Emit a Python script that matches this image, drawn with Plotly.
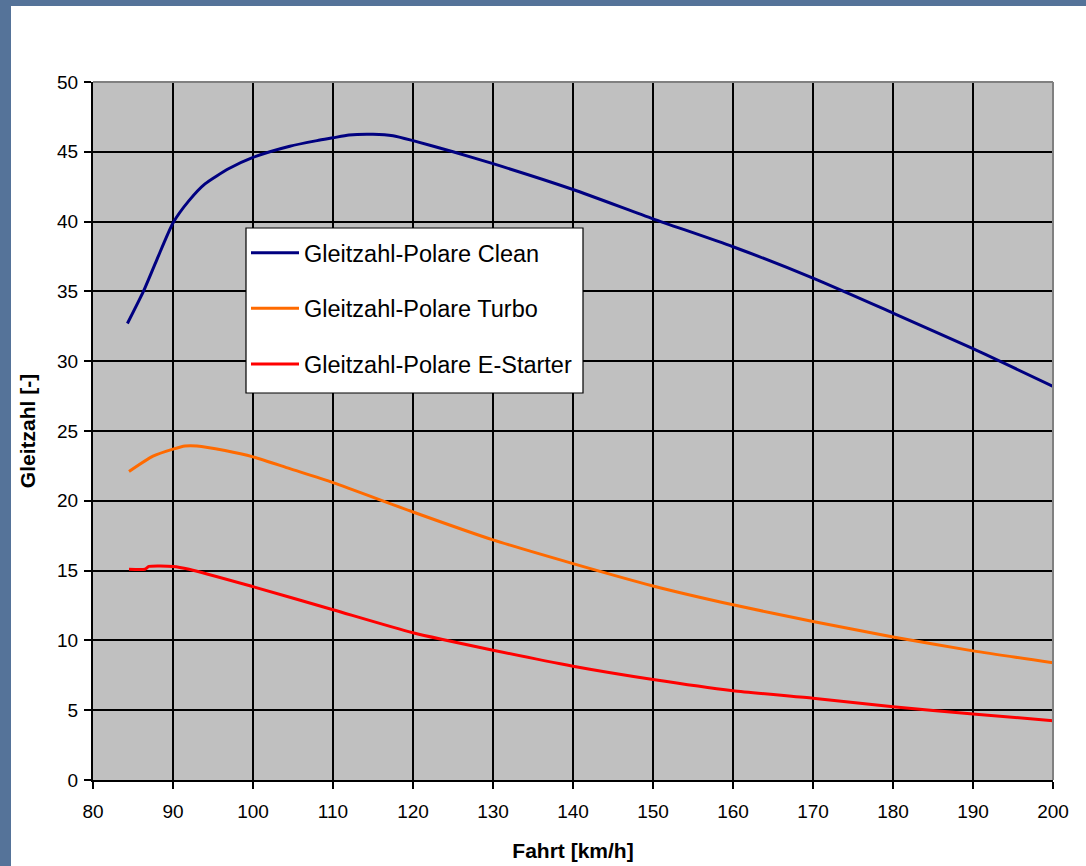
import plotly.graph_objects as go

# Data
clean_x = [84.3, 86.3, 88, 90, 92, 94, 97, 100, 104.6, 108, 110, 112, 115, 117.5, 120, 125, 130, 140, 150, 160, 170, 180, 190, 200]
clean_y = [32.7, 35.0, 37.3, 39.9, 41.5, 42.7, 43.8, 44.6, 45.4, 45.8, 46.0, 46.2, 46.25, 46.15, 45.8, 45.0, 44.15, 42.3, 40.2, 38.2, 35.95, 33.45, 30.9, 28.2]

turbo_x = [84.5, 87.5, 90, 91.5, 93, 96.5, 100, 104.6, 110, 120, 130, 140, 150, 160, 170, 180, 190, 200]
turbo_y = [22.1, 23.2, 23.7, 23.93, 23.93, 23.6, 23.15, 22.3, 21.3, 19.2, 17.2, 15.5, 13.9, 12.55, 11.35, 10.25, 9.25, 8.4]

estart_x = [84.5, 86.5, 87, 90, 92, 100, 110, 120, 130, 140, 150, 160, 170, 180, 190, 200]
estart_y = [15.1, 15.1, 15.3, 15.3, 15.1, 13.85, 12.2, 10.55, 9.3, 8.15, 7.2, 6.4, 5.85, 5.25, 4.73, 4.25]

names = ["Gleitzahl-Polare Clean", "Gleitzahl-Polare Turbo", "Gleitzahl-Polare E-Starter"]
colors = ["#000080", "#FF6A00", "#FF0000"]

x_ticks = list(range(80, 201, 10))
y_ticks = list(range(0, 51, 5))

FONT = "Liberation Sans, Arial, sans-serif"

fig = go.Figure()
for i, (xs, ys) in enumerate([(clean_x, clean_y), (turbo_x, turbo_y), (estart_x, estart_y)]):
    fig.add_trace(go.Scatter(
        x=xs, y=ys, mode="lines", name=names[i],
        line=dict(color=colors[i], width=3, shape="spline", smoothing=0.6),
        legendgroup=f"g{i}",
    ))

L, R, T, B = 93, 33, 82, 86
W, H = 1086, 866
pw, ph = W - L - R, H - T - B

def px(xp):
    return (xp - L) / pw

def py(yp):
    return (H - B - yp) / ph

shapes = [
    # slide background strips (left and top)
    dict(type="rect", xref="paper", yref="paper", x0=px(0), x1=px(11), y0=py(H), y1=py(0),
         fillcolor="#557399", line_width=0, layer="below"),
    dict(type="rect", xref="paper", yref="paper", x0=px(0), x1=px(W), y0=py(6), y1=py(0),
         fillcolor="#557399", line_width=0, layer="below"),
    # gray top and right border of plot area
    dict(type="line", xref="paper", yref="paper", x0=0, x1=1, y0=1, y1=1,
         line=dict(color="#808080", width=2), layer="above"),
    dict(type="line", xref="paper", yref="paper", x0=1, x1=1, y0=0, y1=1,
         line=dict(color="#808080", width=2), layer="above"),
    # legend box
    dict(type="rect", xref="paper", yref="paper", x0=px(246), x1=px(583), y0=py(393), y1=py(228),
         fillcolor="white", line=dict(color="black", width=1.2), layer="above"),
]

fig.update_layout(
    width=W, height=H,
    margin=dict(l=L, r=R, t=T, b=B, pad=0),
    paper_bgcolor="white",
    plot_bgcolor="#C0C0C0",
    font=dict(family=FONT, color="black", size=19),
    shapes=shapes,
    showlegend=True,
    legend=dict(
        x=px(246), y=py(231), xanchor="left", yanchor="top",
        bgcolor="rgba(0,0,0,0)", borderwidth=0,
        font=dict(family=FONT, size=23.5, color="black"),
        tracegroupgap=22, traceorder="grouped",
        itemwidth=48,
    ),
    xaxis=dict(
        range=[80, 200], tickvals=x_ticks, ticktext=[str(v) for v in x_ticks],
        showgrid=True, gridcolor="black", gridwidth=1.5,
        showline=True, linecolor="black", linewidth=2,
        ticks="outside", ticklen=7, tickwidth=1.5, tickcolor="black",
        ticklabelstandoff=6, automargin=False,
        zeroline=False,
        title=dict(text="<b>Fahrt [km/h]</b>", font=dict(family=FONT, size=21, color="black"), standoff=23),
        tickfont=dict(family=FONT, size=19, color="black"),
    ),
    yaxis=dict(
        range=[0, 50], tickvals=y_ticks, ticktext=[str(v) for v in y_ticks],
        showgrid=True, gridcolor="black", gridwidth=1.5,
        showline=True, linecolor="black", linewidth=2,
        ticks="outside", ticklen=7, tickwidth=1.5, tickcolor="black",
        ticklabelstandoff=2, automargin=False,
        zeroline=False,
        title=dict(text="<b>Gleitzahl [-]</b>", font=dict(family=FONT, size=21, color="black"), standoff=16),
        tickfont=dict(family=FONT, size=19, color="black"),
    ),
)

post = (
    "document.documentElement.style.margin='0';"
    "document.documentElement.style.padding='0';"
    "document.documentElement.style.overflow='hidden';"
    "document.body.style.margin='0';"
    "document.body.style.padding='0';"
    "document.body.style.overflow='hidden';"
)
fig.write_html("out.html", config={"displayModeBar": False}, post_script=post)
